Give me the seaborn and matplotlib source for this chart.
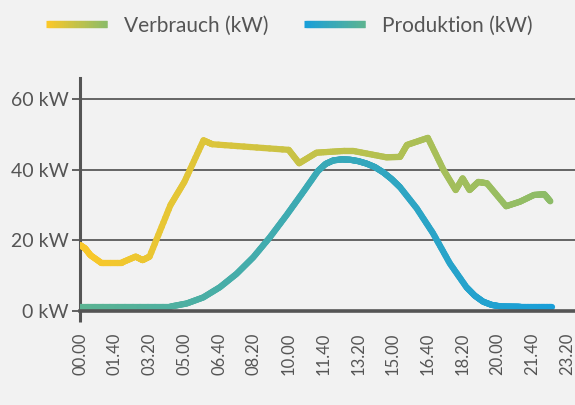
import numpy as np
import pandas as pd
import matplotlib
matplotlib.use("Agg")
import matplotlib.pyplot as plt
import seaborn as sns
from matplotlib.collections import LineCollection
from matplotlib.colors import LinearSegmentedColormap
from matplotlib.legend_handler import HandlerBase

# Werte (Minuten seit Mitternacht, kW)
verbrauch_min = [0, 15, 30, 60, 120, 160, 180, 200, 260, 300, 355, 380,
                 600, 630, 680, 760, 785, 880, 920, 940, 1000, 1045, 1080,
                 1100, 1120, 1145, 1170, 1225, 1265, 1305, 1335, 1352]
verbrauch_kw = [18.6, 17.6, 15.7, 13.6, 13.6, 15.3, 14.3, 15.3, 29.9, 36.5,
                48.3, 47.2, 45.6, 41.8, 44.8, 45.3, 45.3, 43.5, 43.6, 47.0,
                49.0, 39.9, 34.2, 37.5, 34.2, 36.5, 36.1, 29.6, 30.9, 32.8,
                33.0, 31.0]

produktion_min = [0, 259, 307, 354, 402, 450, 498, 546, 594, 642, 684, 706,
                  728, 752, 776, 800, 824, 848, 872, 896, 920, 968, 1015,
                  1063, 1111, 1135, 1159, 1183, 1207, 1265, 1358]
produktion_kw = [1.1, 1.1, 2.0, 3.7, 6.6, 10.4, 15.1, 20.8, 27.1, 33.7, 39.6,
                 41.6, 42.6, 42.9, 42.8, 42.4, 41.7, 40.7, 39.2, 37.3, 35.0,
                 29.0, 21.9, 13.4, 6.6, 4.2, 2.5, 1.6, 1.2, 1.1, 1.1]

tick_min = [0, 100, 200, 300, 400, 500, 600, 700, 800, 900, 1000, 1100,
            1200, 1300, 1400]
tick_labels = ["00.00", "01.40", "03.20", "05.00", "06.40", "08.20", "10.00",
               "11.40", "13.20", "15.00", "16.40", "18.20", "20.00", "21.40",
               "23.20"]
y_ticks = [0, 20, 40, 60]
y_labels = ["0 kW", "20 kW", "40 kW", "60 kW"]

cmap_v = LinearSegmentedColormap.from_list("verbrauch", ["#fbc829", "#8dbc68"])
cmap_p = LinearSegmentedColormap.from_list("produktion", ["#5cb492", "#199fd9"])

bg = "#f2f2f2"
grey = "#555555"

sns.set_theme(style="white", rc={"axes.facecolor": bg, "figure.facecolor": bg})
plt.rcParams["font.family"] = ["Lato", "DejaVu Sans"]

fig = plt.figure(figsize=(5.75, 4.05), dpi=100)
ax = fig.add_axes([80 / 575, 1 - 310.5 / 405, 495 / 575, (310.5 - 78) / 405])

df_v = pd.DataFrame({"zeit": verbrauch_min, "kw": verbrauch_kw})
df_p = pd.DataFrame({"zeit": produktion_min, "kw": produktion_kw})
sns.lineplot(data=df_v, x="zeit", y="kw", ax=ax, color="#fbc829", lw=4.5)
sns.lineplot(data=df_p, x="zeit", y="kw", ax=ax, color="#5cb492", lw=4.5)


def gradient(line, cmap, x0, x1):
    # seaborn-Linie in viele kurze Stücke mit Farbverlauf umwandeln
    x, y = line.get_data()
    xs, ys = [], []
    for i in range(len(x) - 1):
        t = np.linspace(0, 1, 12, endpoint=False)
        xs.extend(x[i] + (x[i + 1] - x[i]) * t)
        ys.extend(y[i] + (y[i + 1] - y[i]) * t)
    xs.append(x[-1])
    ys.append(y[-1])
    pts = np.column_stack([xs, ys]).reshape(-1, 1, 2)
    segs = np.concatenate([pts[:-1], pts[1:]], axis=1)
    mid = (np.array(xs[:-1]) + np.array(xs[1:])) / 2
    lc = LineCollection(segs, colors=cmap((mid - x0) / (x1 - x0)),
                        linewidths=line.get_linewidth(), capstyle="round",
                        joinstyle="round", zorder=3)
    ax.add_collection(lc)
    line.set_visible(False)


gradient(ax.lines[0], cmap_v, 0, verbrauch_min[-1])
gradient(ax.lines[1], cmap_p, 0, produktion_min[-1])

ax.set_xlim(0, 1423)
ax.set_ylim(0, 66)
ax.set_xticks(tick_min)
ax.set_xticklabels(tick_labels, rotation=90)
ax.set_yticks(y_ticks)
ax.set_yticklabels(y_labels)
ax.set_xlabel("")
ax.set_ylabel("")
ax.yaxis.grid(True, color="#5a5a5a", lw=1.3)
ax.xaxis.grid(False)

for s in ["top", "right"]:
    ax.spines[s].set_visible(False)
ax.spines["left"].set_color(grey)
ax.spines["left"].set_linewidth(2.2)
ax.spines["bottom"].set_color(grey)
ax.spines["bottom"].set_linewidth(2.6)
ax.spines["bottom"].set_zorder(4)

ax.tick_params(axis="y", left=True, length=6, width=1.3, color=grey,
               labelsize=14, labelcolor=grey, pad=2)
ax.tick_params(axis="x", bottom=True, length=8, width=2.2, color=grey,
               labelsize=12, labelcolor=grey, pad=8)
for t in ax.xaxis.get_major_ticks()[1:]:
    t.tick1line.set_visible(False)


class HandlerGradient(HandlerBase):
    def __init__(self, cmap, reverse=False):
        super().__init__()
        self.cmap = cmap
        self.reverse = reverse

    def create_artists(self, legend, orig_handle, xdescent, ydescent,
                       width, height, fontsize, trans):
        n = 30
        xs = np.linspace(0, width, n + 1)
        yc = height / 2
        segs = [[(xs[i], yc), (xs[min(i + 2, n)], yc)] for i in range(n)]
        vals = np.linspace(0, 1, n)
        if self.reverse:
            vals = vals[::-1]
        lc = LineCollection(segs, colors=self.cmap(vals), linewidths=5.2,
                            capstyle="butt", transform=trans)
        return [lc]


h_v = LineCollection([], label="Verbrauch (kW)")
h_p = LineCollection([], label="Produktion (kW)")
fig.legend([h_v, h_p], ["Verbrauch (kW)", "Produktion (kW)"],
           handler_map={h_v: HandlerGradient(cmap_v),
                        h_p: HandlerGradient(cmap_p, reverse=True)},
           loc="upper left", bbox_to_anchor=(27 / 575, 1 + 3 / 405), ncol=2,
           frameon=False, fontsize=15, labelcolor=grey, handlelength=2.95,
           handletextpad=0.8, columnspacing=1.7)

fig.savefig("out.png", dpi=100, facecolor=bg)
